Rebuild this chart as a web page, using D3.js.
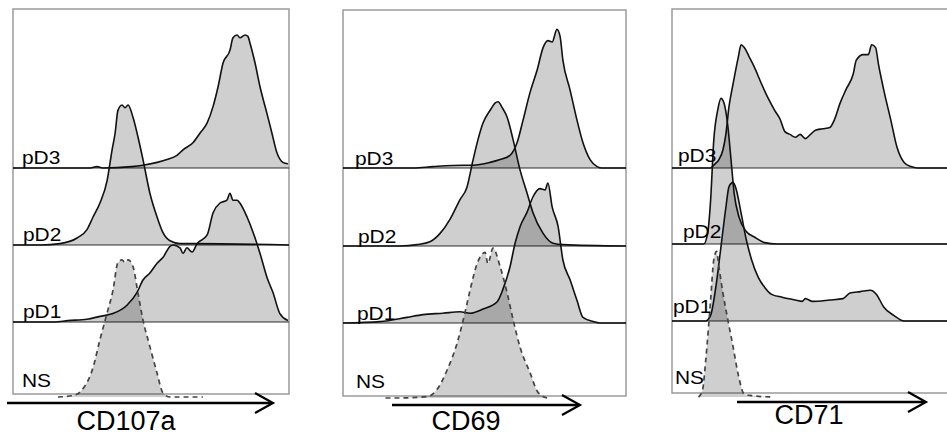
<!DOCTYPE html>
<html>
<head>
<meta charset="utf-8">
<script src="https://cdn.jsdelivr.net/npm/d3@7"></script>
<style>
  html, body { margin: 0; padding: 0; background: #fff; }
  svg { display: block; }
  text { font-family: "Liberation Sans", Arial, sans-serif; fill: #000; }
</style>
</head>
<body>
<svg id="chart" width="947" height="435"></svg>
<script>
// ---------------- DATA (fluorescence channel 0-1000, % of mode) ----------------
const markers = ["CD107a", "CD69", "CD71"];
const samples = ["pD3", "pD2", "pD1", "NS"];

// CD107a
const cd107a_pD3_x = [0, 280, 304, 325, 430, 471, 522, 558, 594, 616, 652, 678, 703, 725, 743, 761, 786, 797, 812, 822, 841, 851, 859, 877, 895, 920, 938, 956, 978, 996];
const cd107a_pD3_y = [0, 0, 1, 0, 1, 2, 4, 6, 9, 13, 18, 25, 32, 44, 58, 75, 84, 93, 95, 93, 95, 94, 89, 75, 58, 39, 25, 11, 4, 3];
const cd107a_pD2_x = [0, 100, 170, 232, 268, 290, 315, 341, 359, 370, 380, 395, 406, 417, 435, 453, 471, 496, 522, 543, 569, 605, 652, 1000];
const cd107a_pD2_y = [0, 0, 1, 5, 11, 20, 30, 46, 68, 80, 96, 100, 98, 100, 91, 77, 61, 37, 20, 9, 3, 1, 1, 0];
const cd107a_pD1_x = [0, 150, 199, 268, 315, 362, 413, 449, 471, 496, 522, 543, 569, 580, 605, 616, 630, 649, 667, 703, 725, 750, 775, 786, 797, 812, 822, 848, 870, 895, 920, 942, 967, 996];
const cd107a_pD1_y = [0, 0, 1, 2, 4, 6, 12, 21, 30, 35, 42, 46, 54, 55, 53, 49, 53, 50, 56, 62, 78, 85, 87, 92, 87, 87, 85, 75, 64, 49, 32, 21, 6, 1];
const cd107a_NS_x = [163, 217, 254, 290, 315, 341, 362, 380, 395, 406, 417, 435, 453, 471, 496, 522, 543, 569, 688];
const cd107a_NS_y = [0, 1, 6, 21, 41, 60, 76, 96, 98, 96, 98, 93, 74, 55, 36, 17, 3, 0, 0];

// CD69
const cd69_pD3_x = [0, 250, 318, 424, 459, 520, 555, 590, 615, 636, 661, 686, 707, 724, 739, 756, 767, 777, 802, 827, 848, 873, 898, 915, 1000];
const cd69_pD3_y = [0, 0, 1, 2, 2, 4, 6, 9, 18, 34, 54, 70, 86, 91, 90, 99, 94, 77, 56, 34, 18, 6, 1, 0, 0];
const cd69_pD2_x = [0, 200, 262, 307, 343, 378, 413, 438, 459, 477, 495, 520, 537, 548, 562, 580, 601, 626, 650, 671, 707, 742, 777, 1000];
const cd69_pD2_y = [0, 0, 1, 3, 9, 19, 33, 42, 61, 76, 88, 97, 102, 103, 99, 92, 76, 54, 38, 24, 9, 2, 1, 0];
const cd69_pD1_x = [0, 131, 226, 283, 353, 413, 449, 495, 544, 565, 590, 608, 626, 650, 671, 696, 714, 724, 739, 760, 777, 802, 827, 848, 884, 908, 1000];
const cd69_pD1_y = [0, 1, 4, 6, 7, 8, 7, 10, 15, 24, 40, 57, 69, 79, 90, 96, 95, 100, 83, 69, 45, 31, 16, 4, 1, 0, 0];
const cd69_NS_x = [150, 191, 297, 332, 368, 403, 431, 449, 474, 502, 512, 530, 555, 580, 601, 626, 661, 689, 721];
const cd69_NS_y = [0, 0, 1, 6, 20, 39, 61, 77, 96, 104, 96, 107, 94, 75, 56, 36, 18, 4, 0];

// CD71
const cd71_pD3_x = [0, 134, 145, 163, 177, 187, 198, 212, 230, 240, 251, 269, 286, 311, 336, 357, 375, 392, 410, 428, 445, 463, 481, 498, 523, 548, 565, 583, 604, 629, 640, 664, 682, 693, 707, 717, 735, 760, 781, 806, 830, 852, 1000];
const cd71_pD3_y = [0, 0, 2, 6, 13, 24, 44, 60, 79, 88, 86, 79, 72, 60, 49, 41, 35, 26, 24, 22, 24, 21, 24, 27, 28, 29, 35, 46, 56, 67, 77, 81, 81, 88, 86, 74, 56, 34, 15, 4, 1, 0, 0];
const cd71_pD2_x = [0, 110, 124, 134, 145, 159, 170, 180, 194, 205, 216, 233, 258, 286, 322, 364, 1000];
const cd71_pD2_y = [0, 0, 8, 31, 74, 96, 104, 101, 84, 60, 36, 19, 9, 5, 1, 0, 0];
const cd71_pD1_x = [0, 117, 134, 152, 170, 187, 198, 212, 223, 240, 258, 276, 300, 322, 346, 382, 428, 452, 463, 488, 548, 594, 618, 654, 689, 710, 735, 770, 806, 1000];
const cd71_pD1_y = [0, 0, 4, 24, 53, 81, 96, 99, 94, 77, 58, 44, 31, 24, 19, 17, 15, 14, 16, 14, 15, 16, 20, 21, 22, 19, 10, 4, 0, 0];
const cd71_NS_x = [92, 106, 117, 134, 145, 155, 163, 177, 194, 212, 230, 251, 276, 346];
const cd71_NS_y = [0, 5, 26, 69, 98, 104, 93, 74, 55, 36, 16, 2, 1, 0];

const seriesData = {
  CD107a: { pD3: [cd107a_pD3_x, cd107a_pD3_y], pD2: [cd107a_pD2_x, cd107a_pD2_y], pD1: [cd107a_pD1_x, cd107a_pD1_y], NS: [cd107a_NS_x, cd107a_NS_y] },
  CD69:   { pD3: [cd69_pD3_x, cd69_pD3_y],     pD2: [cd69_pD2_x, cd69_pD2_y],     pD1: [cd69_pD1_x, cd69_pD1_y],     NS: [cd69_NS_x, cd69_NS_y] },
  CD71:   { pD3: [cd71_pD3_x, cd71_pD3_y],     pD2: [cd71_pD2_x, cd71_pD2_y],     pD1: [cd71_pD1_x, cd71_pD1_y],     NS: [cd71_NS_x, cd71_NS_y] }
};

// ---------------- LAYOUT ----------------
const layout = [
  { left: 13,  right: 289, top: 9,  bottom: 394, base: [168, 245, 322, 397],
    labelX: [22, 23, 23, 22], labelY: [164, 241, 318, 387],
    arrow: [7, 273, 403], titleX: 126, titleY: 430 },
  { left: 343, right: 626, top: 10, bottom: 396, base: [168, 246, 323, 398],
    labelX: [355, 358, 357, 356], labelY: [165, 243, 320, 388],
    arrow: [392, 580, 405], titleX: 466, titleY: 430 },
  { left: 672, right: 960, top: 9,  bottom: 393, base: [168, 244, 321, 397],
    labelX: [678, 683, 673, 675], labelY: [162, 238, 313, 384],
    arrow: [737, 926, 402], titleX: 809, titleY: 424 }
];
const peakPx = 140;

const svg = d3.select("#chart");

markers.forEach((m, pi) => {
  const L = layout[pi];
  const g = svg.append("g");
  const x = d3.scaleLinear().domain([0, 1000]).range([L.left, L.right]);

  // box
  g.append("rect")
    .attr("x", L.left).attr("y", L.top)
    .attr("width", L.right - L.left).attr("height", L.bottom - L.top)
    .attr("fill", "none").attr("stroke", "#9a9a9a").attr("stroke-width", 1.5);

  // baselines for stacked rows (not NS)
  samples.forEach((s, ri) => {
    if (s === "NS") return;
    g.append("line")
      .attr("x1", L.left).attr("x2", L.right)
      .attr("y1", L.base[ri]).attr("y2", L.base[ri])
      .attr("stroke", "#333").attr("stroke-width", 1.1);
  });

  // histograms
  samples.forEach((s, ri) => {
    const [xs, ys] = seriesData[m][s];
    const pts = xs.map((v, i) => ({ x: v, y: ys[i] }));
    const y = d3.scaleLinear().domain([0, 100]).range([L.base[ri], L.base[ri] - peakPx]);
    const area = d3.area().x(d => x(d.x)).y0(L.base[ri]).y1(d => y(d.y)).curve(d3.curveMonotoneX);
    const line = d3.line().x(d => x(d.x)).y(d => y(d.y)).curve(d3.curveMonotoneX);
    g.append("path").attr("d", area(pts))
      .attr("fill", "#000").attr("fill-opacity", 0.19).attr("stroke", "none");
    const ln = g.append("path").attr("d", line(pts))
      .attr("fill", "none")
      .attr("stroke", s === "NS" ? "#444" : "#111")
      .attr("stroke-width", s === "NS" ? 1.7 : 1.6)
      .attr("stroke-linejoin", "round");
    if (s === "NS") ln.attr("stroke-dasharray", "5,4");
  });

  // row labels
  samples.forEach((s, ri) => {
    g.append("text")
      .attr("transform", `translate(${L.labelX[ri]},${L.labelY[ri]}) scale(1.1,1)`)
      .attr("font-size", 19)
      .text(s);
  });

  // arrow
  const [ax1, ax2, ay] = L.arrow;
  g.append("line").attr("x1", ax1).attr("x2", ax2 - 1).attr("y1", ay).attr("y2", ay)
    .attr("stroke", "#000").attr("stroke-width", 2.5);
  g.append("path")
    .attr("d", d3.line()([[ax2 - 18, ay - 10], [ax2, ay], [ax2 - 18, ay + 10]]))
    .attr("fill", "none").attr("stroke", "#000").attr("stroke-width", 2.2);

  // marker title
  g.append("text")
    .attr("x", L.titleX).attr("y", L.titleY)
    .attr("text-anchor", "middle")
    .attr("font-size", 27)
    .text(m);
});
</script>
</body>
</html>
